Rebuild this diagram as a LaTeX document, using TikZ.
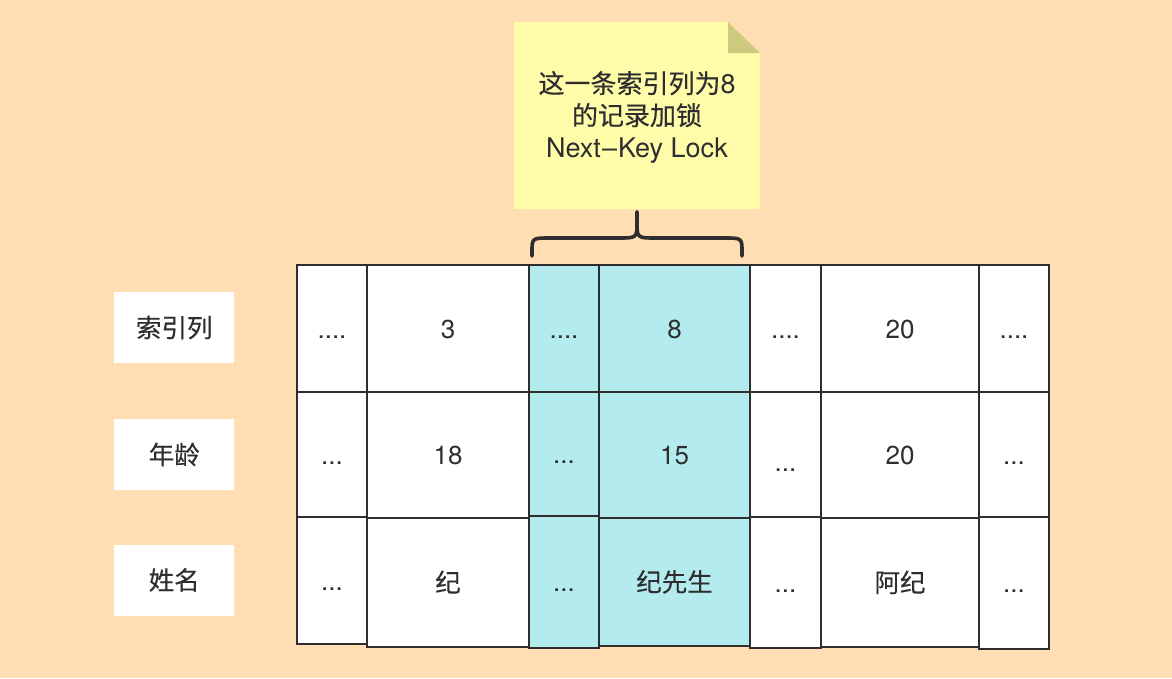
\documentclass[tikz,border=0pt]{standalone}
\usepackage{fontspec}
\setmainfont{TeX Gyre Heros}
\newfontfamily\cjk[FakeBold=0.3]{Noto Sans CJK SC}
\definecolor{bgc}{HTML}{FFDEB3}
\definecolor{cyanc}{HTML}{B3EBEF}
\definecolor{notec}{HTML}{FFFCAA}
\definecolor{foldc}{HTML}{CDCA80}
\definecolor{ink}{HTML}{2E2E2E}
\tikzset{
  cellbox/.style={draw=ink, line width=2pt, inner sep=0pt, outer sep=0pt, anchor=north west, text=ink,
    text height=19pt, text depth=0pt,
    font=\fontsize{26}{30}\selectfont},
  wcell/.style={cellbox, fill=white},
  ccell/.style={cellbox, fill=cyanc},
  labelbox/.style={fill=white, inner sep=0pt, anchor=north west, minimum width=120pt, minimum height=71pt,
    text=ink, text height=19pt, text depth=0pt, font=\fontsize{25.5}{28}\selectfont\cjk},
  notetext/.style={text=ink, align=center, font=\fontsize{27}{32}\selectfont},
  bracepath/.style={draw=ink, line width=3.6pt, line cap=round, line join=round}
}
\newcommand\zh[1]{{\fontsize{25.5}{30}\selectfont\cjk #1}}
\begin{document}
\begin{tikzpicture}[x=1pt,y=-1pt]
\fill[bgc] (0,0) rectangle (1172,678);
\useasboundingbox (0,0) rectangle (1172,678);

% sticky note
\fill[notec] (514,22) -- (728,22) -- (760,53) -- (760,209) -- (514,209) -- cycle;
\fill[foldc] (728,22) -- (760,53) -- (728,53) -- cycle;
\node[notetext] (note) at (637,117) {{\fontsize{26}{32}\selectfont\cjk 这一条索引列为}8\\{\fontsize{26}{32}\selectfont\cjk 的记录加锁}\\Next\kern1pt--\kern1pt Key Lock};

% brace
\coordinate (bl) at (532,256);
\coordinate (br) at (742,256);
\coordinate (btip) at (637,212);
\draw[bracepath] (bl) -- (532,252) .. controls (532,238) .. (550,238) -- (618,238)
  .. controls (637,238) .. (637,222) -- (btip);
\draw[bracepath] (btip) -- (637,222) .. controls (637,238) .. (656,238) -- (724,238)
  .. controls (742,238) .. (742,252) -- (br);

% row labels
\node[labelbox] (l1) at (114,292) {索引列};
\node[labelbox] (l2) at (114,419) {年龄};
\node[labelbox] (l3) at (114,544.5) {姓名};

% column 1
\node[wcell, minimum width=70pt, minimum height=127pt] (c11) at (297,265) {....};
\node[wcell, minimum width=70pt, minimum height=125pt] (c12) at (297,392) {...};
\node[wcell, minimum width=70pt, minimum height=127pt] (c13) at (297,517) {...};
% column 2
\node[wcell, minimum width=162pt, minimum height=127pt] (c21) at (367,265) {3};
\node[wcell, minimum width=162pt, minimum height=126pt] (c22) at (367,392) {18};
\node[wcell, minimum width=162pt, minimum height=129pt] (c23) at (367,518) {\zh{纪}};
% column 3
\node[ccell, minimum width=70pt, minimum height=127pt] (c31) at (529,265) {....};
\node[ccell, minimum width=70pt, minimum height=124pt] (c32) at (529,392) {...};
\node[ccell, minimum width=70pt, minimum height=132pt] (c33) at (529,516) {...};
% column 4
\node[ccell, minimum width=151pt, minimum height=127pt] (c41) at (599,265) {8};
\node[ccell, minimum width=151pt, minimum height=126pt] (c42) at (599,392) {15};
\node[ccell, minimum width=151pt, minimum height=128pt] (c43) at (599,518) {\zh{纪先生}};
% column 5
\node[wcell, minimum width=71pt, minimum height=127pt] (c51) at (750,265) {....};
\node[wcell, minimum width=71pt, minimum height=125pt] (c52) at (750,392) {\raisebox{-7pt}{...}};
\node[wcell, minimum width=71pt, minimum height=131pt] (c53) at (750,517) {...};
% column 6
\node[wcell, minimum width=158pt, minimum height=127pt] (c61) at (821,265) {20};
\node[wcell, minimum width=158pt, minimum height=126pt] (c62) at (821,392) {20};
\node[wcell, minimum width=158pt, minimum height=129pt] (c63) at (821,518) {\zh{阿纪}};
% column 7
\node[wcell, minimum width=70pt, minimum height=127pt] (c71) at (979,265) {....};
\node[wcell, minimum width=70pt, minimum height=125pt] (c72) at (979,392) {...};
\node[wcell, minimum width=70pt, minimum height=132pt] (c73) at (979,517) {...};
\end{tikzpicture}
\end{document}
